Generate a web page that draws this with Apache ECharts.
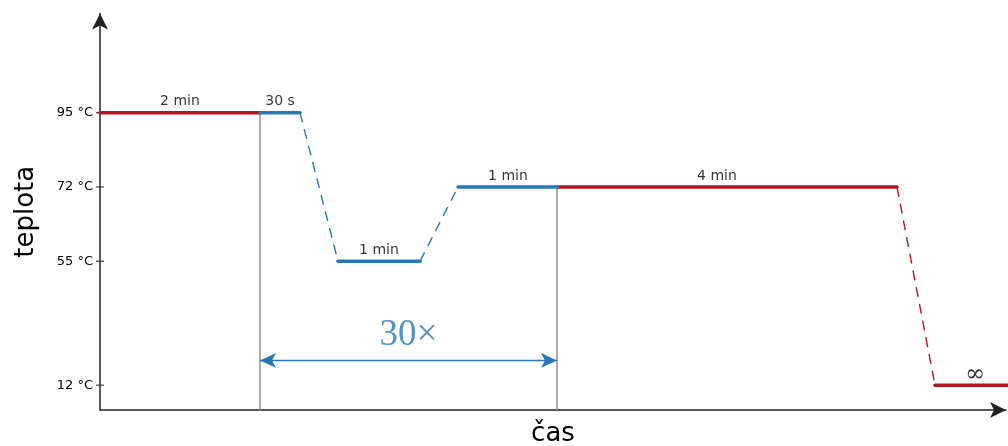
<!DOCTYPE html>
<html>
<head>
<meta charset="utf-8">
<script src="https://cdn.jsdelivr.net/npm/echarts@6/dist/echarts.min.js"></script>
<style>html,body{margin:0;padding:0;background:#fff}#c{width:1008px;height:446px}</style>
</head>
<body>
<div id="c"></div>
<script>
// schematic temperature levels (the chart is not to scale)
const tempLevel = {95: 11, 72: 8, 55: 5, 12: 0};
const tickTemps = [95, 72, 55, 12];
const tickLabels = ['95 °C', '72 °C', '55 °C', '12 °C'];
// [time (schematic units), temperature]
const redSegments = [[[0, 95], [160, 95]], [[457, 72], [797, 72]], [[835, 12], [908, 12]]];
const blueSegments = [[[160, 95], [200, 95]], [[238, 55], [320, 55]], [[358, 72], [457, 72]]];
const blueRamps = [[[200, 95], [238, 55]], [[320, 55], [358, 72]]];
const redRamps = [[[797, 72], [835, 12]]];
const stepLabels = [[80, 95, '2 min'], [180, 95, '30 s'], [279, 55, '1 min'], [408, 72, '1 min'], [617, 72, '4 min']];
const endLabel = [875, 12, '∞'];
const cycleBounds = [[160, 95], [457, 72]];
const cycleText = '30×';

const RED = '#b5161e', BLUE = '#2878b5', AX = '#222';
const P = d => [d[0], tempLevel[d[1]]];

const series = [];
redSegments.forEach(s => series.push({type: 'line', data: s.map(P), symbol: 'none', clip: false, z: 5,
  lineStyle: {color: RED, width: 3.5, cap: 'round'}}));
blueSegments.forEach(s => series.push({type: 'line', data: s.map(P), symbol: 'none', z: 6,
  lineStyle: {color: BLUE, width: 3.5, cap: 'round'}}));
blueRamps.forEach(s => series.push({type: 'line', data: s.map(P), symbol: 'none', z: 4,
  lineStyle: {color: BLUE, width: 1.4, type: [10, 7]}}));
redRamps.forEach(s => series.push({type: 'line', data: s.map(P), symbol: 'none', z: 4,
  lineStyle: {color: RED, width: 1.4, type: [10, 7]}}));
cycleBounds.forEach(b => series.push({type: 'line', data: [P(b), [b[0], -1]], symbol: 'none', z: 3,
  lineStyle: {color: '#888', width: 1.4}}));
// double arrow for cycles
series.push({type: 'line', data: [], symbol: 'none',
  markLine: {silent: true, symbol: ['arrow', 'arrow'], symbolSize: [11, 16], label: {show: false},
    lineStyle: {color: BLUE, width: 1.4, type: 'solid'},
    data: [[{coord: [cycleBounds[0][0], 1]}, {coord: [cycleBounds[1][0], 1]}]]}});
// text labels
series.push({type: 'scatter', symbolSize: 0, z: 10,
  data: stepLabels.map(d => ({value: P(d), name: d[2]})),
  label: {show: true, position: 'inside', offset: [0, -11], formatter: p => p.name,
    fontFamily: 'DejaVu Sans', fontSize: 14, color: '#000'}});
series.push({type: 'scatter', symbolSize: 0, z: 10,
  data: [{value: P(endLabel), name: endLabel[2]}],
  label: {show: true, position: 'inside', offset: [0, -10], formatter: p => p.name,
    fontFamily: 'DejaVu Serif', fontSize: 24, color: '#000'}});
series.push({type: 'scatter', symbolSize: 0, z: 10,
  data: [{value: [(cycleBounds[0][0] + cycleBounds[1][0]) / 2, 2], name: cycleText}],
  label: {show: true, position: 'inside', formatter: p => p.name,
    fontFamily: 'Liberation Serif', fontSize: 37, color: BLUE}});
// cross ticks on y axis
series.push({type: 'scatter', symbol: 'rect', symbolSize: [8, 1.3], z: 2,
  itemStyle: {color: AX}, data: tickTemps.map(t => [0, tempLevel[t]])});

const chart = echarts.init(document.getElementById('c'), null, {renderer: 'canvas'});
chart.setOption({
  animation: false,
  grid: {left: 100, right: 2, top: 13.5, bottom: 36, containLabel: false, outerBoundsMode: 'none'},
  xAxis: {type: 'value', min: 0, max: 906, name: 'čas', nameLocation: 'middle', nameGap: 11,
    nameTextStyle: {fontFamily: 'DejaVu Sans', fontSize: 26, color: '#000'},
    axisLine: {onZero: false, lineStyle: {color: AX, width: 1.5}, symbol: ['none', 'arrow'], symbolSize: [12, 16]},
    axisTick: {show: false}, axisLabel: {show: false}, splitLine: {show: false}},
  yAxis: {type: 'value', min: -1, max: 15, name: 'teplota', nameLocation: 'middle', nameGap: 61, nameRotate: 90,
    nameTextStyle: {fontFamily: 'DejaVu Sans', fontSize: 26, color: '#000'},
    axisLine: {show: true, onZero: false, lineStyle: {color: AX, width: 1.5}, symbol: ['none', 'arrow'], symbolSize: [12, 16]},
    axisTick: {show: false}, splitLine: {show: false},
    axisLabel: {show: true, customValues: tickTemps.map(t => tempLevel[t]), margin: 7,
      fontFamily: 'DejaVu Sans', fontSize: 13, color: '#000',
      formatter: v => { const i = tickTemps.findIndex(t => tempLevel[t] === v); return i >= 0 ? tickLabels[i] : ''; }}},
  series: series
});
</script>
</body>
</html>
